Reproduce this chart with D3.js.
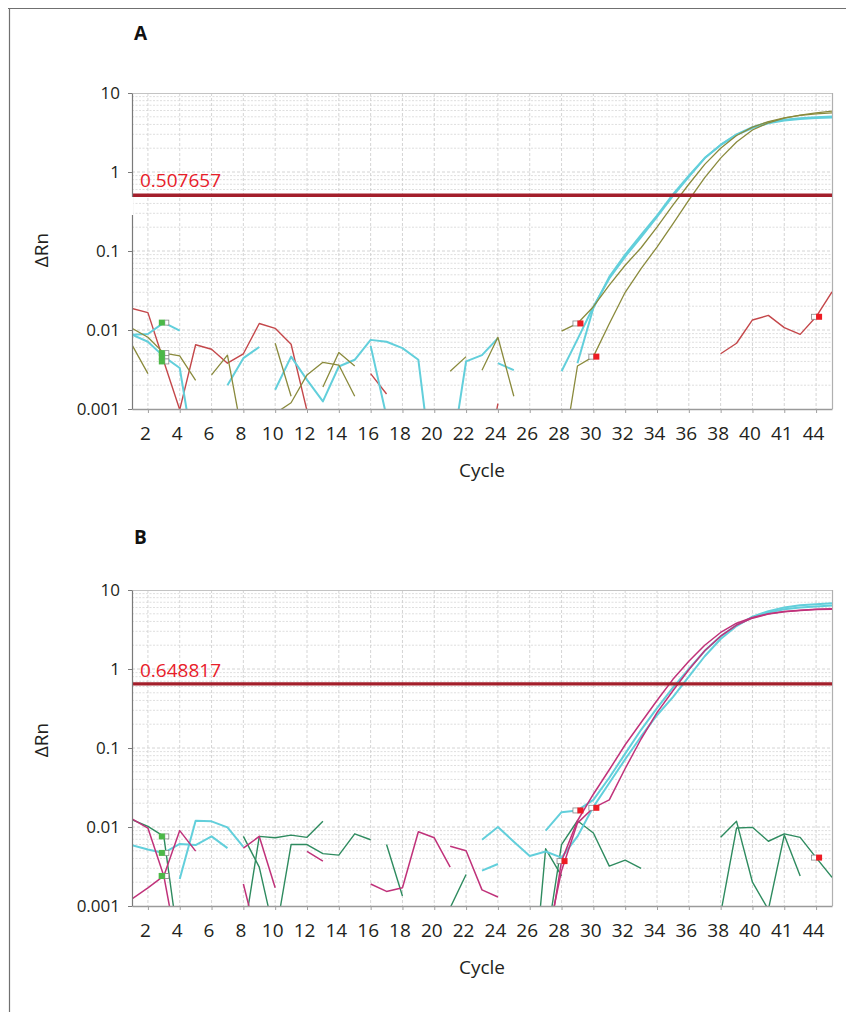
<!DOCTYPE html>
<html><head><meta charset="utf-8">
<script src="https://cdn.jsdelivr.net/npm/d3@7"></script>
<style>
html,body{margin:0;padding:0;background:#fff;}
svg{display:block;}
text{font-family:"Open Sans",sans-serif;}
</style></head><body>
<svg id="chart" width="846" height="1012"></svg>
<script>
const N = null;
const cycles = d3.range(1, 46);
const xTickCycles = [2,4,6,8,10,12,14,16,18,20,22,24,26,28,30,32,34,36,38,40,42,44];
const xTickLabels = ["2","4","6","8","10","12","14","16","18","20","22","24","26","28","30","32","34","36","38","40","41","44"];
const yTicks = [0.001, 0.01, 0.1, 1, 10];
const yTickLabels = ["0.001", "0.01", "0.1", "1", "10"];

// ---------- Panel A (values per cycle 1..45; null = no value) ----------
const thresholdA = 0.507657;
const aRed = [0.0187,0.0166,0.0040,0.00098,0.0065,0.0057,0.0038,0.0050,0.0121,0.0105,0.0066,0.00095,
  N,N,N,0.0028,0.00155,N,N,N,N,N,0.0001,0.00117,
  N,N,N,N,N,N,N,N,N,N,N,N,N,
  0.0050,0.0068,0.0134,0.0153,0.0107,0.0088,0.0147,0.0304];
const aCyan1 = [0.0087,0.0089,0.0124,0.0098,N,N,0.0020,0.0044,0.0061,
  N,N,N,N,N,N,0.0063,0.0008,N,N,N,N,N,N,0.0038,0.0031,N,N,N,
  0.0038,0.019,0.047,0.09,0.16,0.28,0.52,0.9,1.5,2.2,2.95,3.6,4.15,4.5,4.7,4.82,4.9];
const aCyan2 = [0.0087,0.0071,0.0046,0.0033,0.0002,N,N,N,N,
  0.00175,0.0046,0.00234,0.00125,0.00345,0.0042,0.0075,0.0071,0.0059,0.0042,0.0001,0.0002,0.0040,0.0048,0.0079,
  N,N,N,
  0.0030,0.0076,0.0197,0.045,0.085,0.15,0.27,0.50,0.87,1.5,2.2,3.0,3.7,4.25,4.6,4.8,4.95,5.05];
const aOlive1 = [0.0105,0.0081,0.0051,0.0047,0.0023,N,N,N,N,
  0.0068,0.00145,N,0.0019,0.0052,0.0035,N,N,N,N,N,N,N,
  0.0031,0.0081,0.00145,N,N,
  0.0097,0.0121,0.0197,0.037,0.066,0.11,0.2,0.38,0.7,1.25,2.0,2.9,3.7,4.35,4.85,5.2,5.45,5.6];
const aOlive2 = [0.0065,0.0028,N,N,N,0.0027,0.0048,0.0004,N,
  0.00088,0.0012,0.0027,0.0039,0.0036,0.00145,N,N,N,N,N,
  0.0030,0.0046,N,N,N,N,N,
  0.0002,0.0035,0.0046,0.012,0.030,0.06,0.112,0.22,0.44,0.85,1.5,2.4,3.4,4.2,4.8,5.25,5.6,5.9];

// ---------- Panel B ----------
const thresholdB = 0.648817;
const bGreen1 = [0.0124,0.0102,0.0076,0.00026,N,N,N,
  0.0004,0.0076,0.0073,0.0079,0.0074,0.0118,N,N,N,
  0.0060,0.00134,N,N,N,N,N,N,N,
  0.00003,0.0053,0.0024,N,N,N,N,N,N,N,N,N,
  0.0074,0.0118,0.0020,0.0009,N,N,N,N];
const bGreen2 = [N,N,N,N,N,N,N,
  0.0076,0.0031,0.0004,0.0060,0.0060,0.0046,0.0044,0.0082,0.0069,
  N,N,N,N,0.00095,0.0025,N,N,N,N,
  0.0003,0.0060,0.0120,0.0084,0.0032,0.0038,0.0030,N,N,N,N,
  0.0008,0.0097,0.0099,0.0066,0.0082,0.0074,0.0041,0.0023];
const bGreen3 = [N,N,N,N,N,N,N,N,N,N,N,N,N,N,N,N,N,N,N,N,N,N,N,N,N,N,N,N,N,N,N,N,N,N,N,N,N,N,N,N,
  0.0009,0.0079,0.0024,N,N];
const bCyan1 = [0.0059,0.0052,0.0047,0.0061,0.0059,0.0076,0.0054,
  N,N,N,N,N,N,N,N,N,N,N,N,N,N,N,
  0.0028,0.0034,N,N,
  0.009,0.0154,0.0162,0.022,0.042,0.085,0.17,0.32,0.58,1.0,1.7,2.6,3.6,4.5,5.2,5.7,6.0,6.2,6.35];
const bCyan2 = [N,N,N,0.0022,0.012,0.0118,0.0099,0.0056,
  N,N,N,N,N,N,N,N,N,N,N,N,N,N,
  0.0069,0.0100,0.0065,0.0043,0.0049,0.0041,
  0.0076,0.018,0.036,0.072,0.14,0.26,0.44,0.80,1.45,2.4,3.5,4.6,5.4,6.0,6.4,6.6,6.8];
const bMag1 = [0.0127,0.0097,0.0024,0.0002,N,N,N,
  0.0054,0.0076,0.0017,N,0.0049,0.0037,N,N,
  0.0019,0.00153,0.0017,0.0087,0.0073,0.0031,N,N,N,N,N,
  0.0002,0.0037,0.012,0.026,0.053,0.11,0.21,0.40,0.74,1.25,2.0,2.9,3.8,4.5,5.0,5.35,5.55,5.7,5.78];
const bMag2 = [0.00123,0.0017,0.0024,0.009,0.00495,N,N,
  0.0019,0.0003,N,N,N,N,N,N,N,N,N,N,N,
  0.0057,0.0050,0.0016,0.0013,N,N,
  0.0003,0.0028,0.0112,0.0175,0.022,0.055,0.13,0.28,0.53,0.98,1.7,2.6,3.6,4.4,4.95,5.3,5.5,5.65,5.72];

const colRed = "#c4474a", colCyan = "#62cfdb", colOlive = "#8a8a3c",
      colMag = "#c0327a", colGreen = "#2e8b5f";

const panels = [
  { label: "A", labelY: 40, top: 93, bottom: 409, threshold: thresholdA, thrLabel: "0.507657", thrLabelY: 187,
    yLabelY: 250, cycleY: 477, axisGap: [197, 215],
    series: [
      { v: aRed, c: colRed, w: 1.4 },
      { v: aCyan1, c: colCyan, w: 2 },
      { v: aCyan2, c: colCyan, w: 2 },
      { v: aOlive1, c: colOlive, w: 1.3 },
      { v: aOlive2, c: colOlive, w: 1.3 }
    ],
    green: [[1,3],[2,3],[0,3],[3,3]],
    red: [[3,29],[4,30],[0,44]] },
  { label: "B", labelY: 544, top: 590, bottom: 906, threshold: thresholdB, thrLabel: "0.648817", thrLabelY: 677,
    yLabelY: 740, cycleY: 974, axisGap: null,
    series: [
      { v: bGreen1, c: colGreen, w: 1.4 },
      { v: bGreen2, c: colGreen, w: 1.4 },
      { v: bGreen3, c: colGreen, w: 1.4 },
      { v: bCyan1, c: colCyan, w: 2 },
      { v: bCyan2, c: colCyan, w: 2 },
      { v: bMag1, c: colMag, w: 1.5 },
      { v: bMag2, c: colMag, w: 1.5 }
    ],
    green: [[0,3],[3,3],[6,3],[5,3]],
    red: [[5,28],[3,29],[6,30],[1,44]] }
];

const svg = d3.select("#chart");
// outer frame
svg.append("line").attr("x1", 8).attr("x2", 846).attr("y1", 8.5).attr("y2", 8.5).attr("stroke", "#707070").attr("stroke-width", 1.2);
svg.append("line").attr("x1", 9.5).attr("x2", 9.5).attr("y1", 8).attr("y2", 1012).attr("stroke", "#707070").attr("stroke-width", 1.2);

const L = 132, R = 832;

panels.forEach((p, pi) => {
  const x = d3.scaleLinear().domain([1, 45]).range([L, R]);
  const y = d3.scaleLog().domain([0.001, 10]).range([p.bottom, p.top]);
  const g = svg.append("g");

  // grid
  const minor = [];
  [0.001, 0.01, 0.1, 1].forEach(d => { for (let m = 2; m <= 9; m++) minor.push(d * m); });
  g.selectAll(".hmin").data(minor).enter().append("line")
    .attr("x1", L).attr("x2", R).attr("y1", d => y(d)).attr("y2", d => y(d))
    .attr("stroke", "#d6d6d6").attr("stroke-width", 0.8).attr("stroke-dasharray", "2,1.5");
  g.selectAll(".hmaj").data([0.01, 0.1, 1]).enter().append("line")
    .attr("x1", L).attr("x2", R).attr("y1", d => y(d)).attr("y2", d => y(d))
    .attr("stroke", "#cfcfcf").attr("stroke-width", 0.9).attr("stroke-dasharray", "3,2");
  g.selectAll(".vg").data(xTickCycles).enter().append("line")
    .attr("x1", d => x(d)).attr("x2", d => x(d)).attr("y1", p.top).attr("y2", p.bottom)
    .attr("stroke", "#d0d0d0").attr("stroke-width", 0.9).attr("stroke-dasharray", "3,2");

  // frame top/right
  g.append("line").attr("x1", L).attr("x2", R).attr("y1", p.top + 0.5).attr("y2", p.top + 0.5).attr("stroke", "#c4c4c4");
  g.append("line").attr("x1", R + 0.5).attr("x2", R + 0.5).attr("y1", p.top).attr("y2", p.bottom).attr("stroke", "#b0b0b0").attr("stroke-width", 1.2);

  // clip
  const cid = "clip" + pi;
  svg.append("clipPath").attr("id", cid).append("rect")
    .attr("x", L).attr("y", p.top).attr("width", R - L).attr("height", p.bottom - p.top);

  const line = d3.line().defined(d => d.v != null).x(d => x(d.c)).y(d => y(d.v));
  const lg = g.append("g").attr("clip-path", `url(#${cid})`);
  p.series.forEach(s => {
    const data = cycles.map((c, i) => ({ c: c, v: s.v[i] }));
    lg.append("path").datum(data).attr("d", line)
      .attr("fill", "none").attr("stroke", s.c).attr("stroke-width", s.w)
      .attr("stroke-linejoin", "round");
  });

  // threshold
  g.append("line").attr("x1", L).attr("x2", R).attr("y1", y(p.threshold)).attr("y2", y(p.threshold))
    .attr("stroke", "#a31f2b").attr("stroke-width", 3.3);
  g.append("text").attr("x", 140).attr("y", p.thrLabelY).text(p.thrLabel)
    .attr("fill", "#e8202a").attr("font-size", 19);

  // markers
  p.green.forEach(([si, c]) => {
    const v = p.series[si].v[c - 1];
    const px = x(c), py = y(v);
    g.append("rect").attr("x", px + 1).attr("y", py - 2.5).attr("width", 4).attr("height", 5)
      .attr("fill", "#fff").attr("stroke", "#8a8a8a").attr("stroke-width", 0.8);
    g.append("rect").attr("x", px - 5).attr("y", py - 3).attr("width", 6).attr("height", 6).attr("fill", "#4cb848");
  });
  p.red.forEach(([si, c]) => {
    const v = p.series[si].v[c - 1];
    const px = x(c), py = y(v);
    g.append("rect").attr("x", px - 4.5).attr("y", py - 2.5).attr("width", 5).attr("height", 5)
      .attr("fill", "#fff").attr("stroke", "#8a8a8a").attr("stroke-width", 0.8);
    g.append("rect").attr("x", px).attr("y", py - 3).attr("width", 6).attr("height", 6).attr("fill", "#ee1c24");
  });

  // axes
  const xa = g.append("g").attr("transform", `translate(0,${p.bottom})`)
    .call(d3.axisBottom(x).tickValues(xTickCycles).tickFormat((d, i) => xTickLabels[i])
      .tickSize(4).tickSizeOuter(0).tickPadding(14));
  xa.select(".domain").attr("stroke", "#9a9a9a").attr("stroke-width", 1.3);
  xa.selectAll(".tick line").attr("stroke", "#a0a0a0");
  xa.selectAll(".tick text").attr("font-size", 19).attr("fill", "#231f20").attr("dx", -3)
    .attr("font-family", "'Open Sans', sans-serif");

  const ya = g.append("g").attr("transform", `translate(${L},0)`)
    .call(d3.axisLeft(y).tickValues(yTicks).tickFormat((d, i) => yTickLabels[i])
      .tickSize(4).tickSizeOuter(0).tickPadding(8));
  ya.select(".domain").attr("stroke", "#7a7a7a").attr("stroke-width", 1.2);
  ya.selectAll(".tick line").attr("stroke", "#7a7a7a");
  ya.selectAll(".tick text").attr("font-size", 17).attr("fill", "#231f20")
    .attr("font-family", "'Open Sans', sans-serif");
  if (p.axisGap) {
    g.append("rect").attr("x", L - 1.5).attr("y", p.axisGap[0]).attr("width", 3).attr("height", p.axisGap[1] - p.axisGap[0]).attr("fill", "#fff");
  }

  // labels
  g.append("text").attr("x", 134).attr("y", p.labelY).text(p.label)
    .attr("font-family", "'Liberation Sans Narrow', 'Liberation Sans', sans-serif")
    .attr("font-weight", "bold").attr("font-size", 19).attr("fill", "#111");
  g.append("text").attr("transform", `translate(48,${p.yLabelY}) rotate(-90)`)
    .attr("text-anchor", "middle").text("ΔRn").attr("font-size", 19).attr("fill", "#231f20");
  g.append("text").attr("x", (L + R) / 2).attr("y", p.cycleY).attr("text-anchor", "middle")
    .text("Cycle").attr("font-size", 19).attr("fill", "#231f20");
});
</script>
</body></html>
